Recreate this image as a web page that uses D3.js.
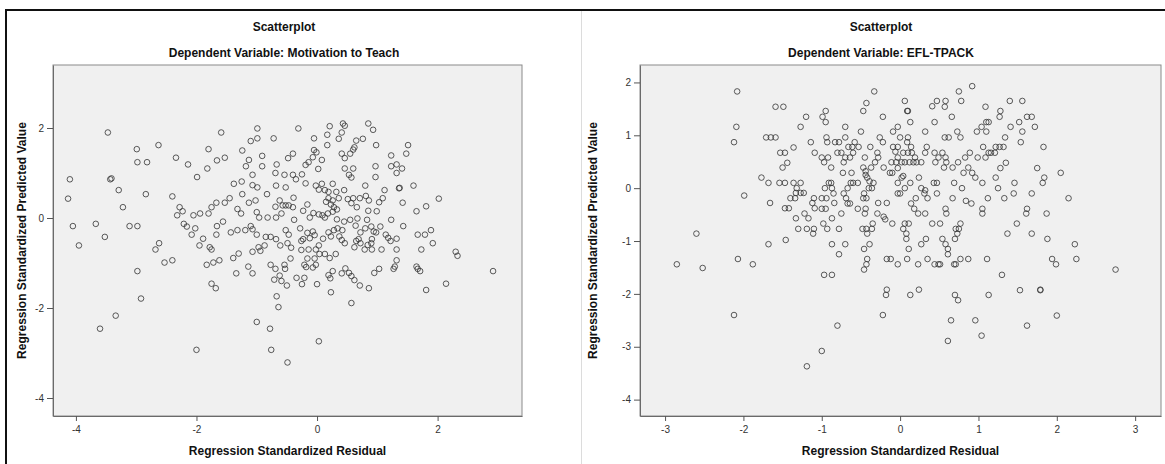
<!DOCTYPE html>
<html>
<head>
<meta charset="utf-8">
<script src="https://cdn.jsdelivr.net/npm/d3@7"></script>
<style>
    body { margin: 0; background: #fff; }
    svg { display: block; font-family: "Liberation Sans", Arial, sans-serif; }
</style>
</head>
<body>
<svg id="chart" width="1165" height="464"></svg>
<script>
// Residual / predicted pairs
var motivationPoints = [
    [-3.47,1.90],[-2.99,1.53],[-2.98,1.24],[-4.10,0.86],[-3.43,0.86],[-3.41,0.88],[-3.29,0.62],[-4.13,0.43],
    [-3.22,0.24],[-4.05,-0.18],[-3.67,-0.13],[-3.11,-0.18],[-2.98,-0.18],[-3.52,-0.42],[-3.95,-0.61],[-2.98,-1.18],
    [-2.92,-1.79],[-3.34,-2.17],[-3.60,-2.46],
    [-0.99,1.99],[-0.31,1.99],[-1.59,1.90],[-0.99,1.77],[-1.10,1.71],[-0.72,1.77],[-0.05,1.77],[-2.63,1.62],
    [-1.80,1.53],[-1.24,1.50],[-0.05,1.51],[-0.01,1.46],[-0.91,1.38],[-0.40,1.43],[-0.48,1.33],[-2.34,1.34],
    [-1.53,1.34],[-1.66,1.28],[-2.82,1.24],[-2.14,1.19],[-1.13,1.29],[-1.18,1.15],[-0.91,1.15],[-0.67,1.19],
    [-1.82,1.10],[-0.07,1.35],[-0.14,1.24],[-0.19,1.18],[-0.25,0.97],[0.02,1.09],[-1.07,0.96],[-0.69,1.00],
    [-0.54,0.96],[-0.40,0.96],[-0.35,0.86],[-1.99,0.91],[-1.38,0.76],[-1.25,0.81],[-1.07,0.73],[-0.99,0.68],
    [-0.68,0.72],[-0.52,0.68],[-0.19,0.77],[-0.02,0.72],[0.03,0.63],[-2.84,0.53],[-2.40,0.48],[-1.24,0.53],
    [-0.83,0.53],[-1.45,0.44],[-1.53,0.34],[-1.67,0.34],[-1.75,0.24],[-1.80,0.10],[-1.94,0.10],[-2.05,0.06],
    [-2.28,0.24],[-2.23,0.15],[-2.32,0.06],[-1.13,0.34],[-1.02,0.39],[-0.62,0.39],[-0.57,0.28],[-0.52,0.28],
    [-0.47,0.28],[-0.39,0.45],[-0.16,0.30],[-0.40,0.24],[-0.69,0.25],[-1.32,0.20],[-1.26,0.10],[-1.00,0.13],
    [-0.96,0.01],[-0.82,0.01],[-0.68,0.01],[-0.59,0.10],[-0.38,-0.04],[-0.23,0.16],[-0.06,0.11],[-0.12,0.01],
    [0.03,0.08],[-2.21,-0.13],[-2.16,-0.19],[-2.02,-0.23],[-2.08,-0.37],[-1.89,-0.46],[-1.95,-0.61],[-1.78,-0.65],
    [-1.75,-0.70],[-1.56,-0.08],[-1.66,-0.18],[-1.67,-0.37],[-1.43,-0.32],[-1.32,-0.27],[-1.19,-0.27],[-1.10,-0.18],
    [-1.07,-0.25],[-1.00,-0.37],[-0.85,-0.42],[-0.77,-0.42],[-0.68,-0.47],[-0.52,-0.27],[-0.47,-0.37],[-0.28,-0.23],
    [-0.16,-0.33],[-0.07,-0.30],[-0.04,-0.38],[-0.23,-0.47],[-0.26,-0.51],[-0.12,-0.45],[-2.62,-0.56],[-2.68,-0.70],
    [-1.07,-0.75],[-0.97,-0.65],[-0.94,-0.73],[-0.87,-0.61],[-0.61,-0.61],[-0.49,-0.56],[-0.43,-0.66],[-0.26,-0.71],
    [-0.14,-0.70],[-0.02,-0.70],[0.03,-0.61],[-1.30,-0.79],[-1.39,-0.89],[-2.40,-0.94],[-2.53,-0.99],[-1.83,-1.04],
    [-1.72,-0.99],[-1.62,-0.94],[-0.44,-0.90],[-0.77,-1.04],[-0.16,-0.90],[-0.04,-0.90],[-0.21,-1.04],[-0.18,-1.09],
    [-0.07,-1.10],[-0.02,-1.04],[-0.69,-1.13],[-0.54,-1.04],[-1.14,-1.08],[-1.07,-1.23],[-1.34,-1.23],[-0.53,-1.13],
    [-0.62,-1.28],[-0.71,-1.37],[-0.59,-1.40],[-0.50,-1.50],[-0.34,-1.33],[-0.25,-1.47],[-0.21,-1.33],[0.00,-1.47],
    [-1.75,-1.46],[-1.68,-1.56],[-0.67,-1.74],[-0.64,-1.98],[-1.00,-2.31],[-0.78,-2.46],[0.03,-2.74],[-2.00,-2.93],
    [-0.76,-2.93],[-0.49,-3.21],
    [0.21,2.04],[0.43,2.10],[0.46,2.05],[0.85,2.10],[0.93,1.96],[0.17,1.85],[0.41,1.90],[0.36,1.76],
    [0.65,1.72],[0.76,1.76],[0.17,1.62],[0.98,1.62],[1.51,1.62],[1.48,1.43],[1.23,1.39],[0.08,1.29],
    [0.41,1.43],[0.46,1.33],[0.55,1.43],[0.60,1.52],[0.62,1.57],[0.46,1.10],[0.60,1.10],[0.53,0.96],
    [0.57,0.90],[0.97,1.15],[0.97,0.91],[1.23,1.15],[1.32,1.19],[1.41,1.10],[1.32,1.00],[1.36,0.66],
    [1.37,0.67],[1.60,0.72],[0.80,0.72],[1.12,0.62],[0.08,0.76],[0.26,0.76],[0.13,0.62],[0.19,0.58],
    [0.32,0.58],[0.45,0.62],[0.19,0.44],[0.15,0.36],[0.26,0.39],[0.23,0.30],[0.28,0.24],[0.33,0.19],
    [0.26,0.14],[0.36,0.44],[0.51,0.42],[0.60,0.44],[0.57,0.33],[0.66,0.24],[0.71,0.44],[0.81,0.49],
    [0.86,0.39],[1.03,0.35],[1.09,0.44],[1.42,0.34],[2.02,0.43],[1.81,0.26],[1.65,0.15],[0.85,0.16],
    [0.99,0.15],[0.09,0.06],[0.13,0.01],[0.18,0.10],[0.33,-0.03],[0.45,-0.08],[0.55,-0.04],[0.67,-0.01],
    [0.83,-0.04],[0.64,-0.17],[1.23,-0.04],[1.43,-0.18],[0.19,-0.32],[0.28,-0.27],[0.42,-0.27],[0.34,-0.23],
    [0.37,-0.41],[0.41,-0.49],[0.46,-0.56],[0.10,-0.46],[0.23,-0.41],[0.69,-0.47],[0.65,-0.51],[0.72,-0.32],
    [0.80,-0.23],[0.90,-0.19],[0.94,-0.30],[0.98,-0.32],[1.05,-0.19],[0.91,-0.47],[0.90,-0.56],[1.14,-0.37],
    [1.18,-0.44],[1.22,-0.51],[1.32,-0.46],[0.62,-0.65],[0.72,-0.56],[0.79,-0.70],[0.91,-0.70],[1.07,-0.70],
    [0.84,-0.60],[1.32,-0.70],[1.67,-0.37],[1.79,-0.37],[1.89,-0.27],[1.92,-0.56],[1.73,-0.70],[2.30,-0.75],
    [2.33,-0.84],[0.04,-0.80],[0.13,-0.80],[0.21,-0.89],[0.31,-0.80],[1.32,-0.94],[1.03,-1.13],[0.95,-1.22],
    [1.29,-1.08],[1.27,-1.13],[1.65,-1.08],[1.67,-1.13],[1.71,-1.18],[0.47,-1.12],[0.41,-1.23],[0.26,-1.18],
    [0.22,-1.34],[0.19,-1.27],[0.53,-1.22],[0.57,-1.29],[0.62,-1.38],[0.71,-1.50],[0.86,-1.56],[0.23,-1.65],
    [0.57,-1.89],[1.81,-1.60],[2.14,-1.46],[2.92,-1.18]
];

var tpackPoints = [
    [-2.08,1.83],[-1.59,1.54],[-1.49,1.54],[-1.20,1.35],[-1.27,1.16],[-2.09,1.16],[-2.12,0.87],[-1.71,0.96],
    [-1.65,0.96],[-1.59,0.96],[-1.14,0.87],[-1.36,0.77],[-1.53,0.67],[-1.47,0.67],[-1.09,0.67],[-1.44,0.48],
    [-1.50,0.39],[-1.77,0.20],[-1.68,0.10],[-1.54,0.10],[-1.47,0.10],[-1.36,0.10],[-1.27,0.10],[-1.32,0.00],
    [-1.33,-0.09],[-1.27,-0.09],[-1.23,-0.09],[-1.99,-0.14],[-1.40,-0.19],[-1.34,-0.19],[-1.10,-0.19],[-1.66,-0.28],
    [-1.12,-0.28],[-1.47,-0.38],[-1.42,-0.38],[-1.09,-0.38],[-1.22,-0.48],[-1.17,-0.57],[-1.33,-0.57],[-1.30,-0.77],
    [-1.19,-0.77],[-1.10,-0.77],[-1.11,-0.86],[-2.60,-0.86],[-1.46,-0.98],[-1.68,-1.06],[-2.07,-1.34],[-1.88,-1.44],
    [-2.85,-1.44],[-2.52,-1.51],[-2.12,-2.40],[-1.19,-3.37],
    [-0.33,1.83],[0.92,1.93],[0.75,1.83],[-0.43,1.61],[-0.47,1.46],[0.06,1.65],[0.09,1.46],[0.10,1.46],
    [0.47,1.65],[0.58,1.65],[0.41,1.55],[0.57,1.54],[0.78,1.65],[1.09,1.54],[-0.22,1.35],[0.66,1.35],
    [0.13,1.25],[0.44,1.25],[-0.95,1.46],[-0.99,1.35],[-0.95,1.25],[-0.70,1.16],[-0.50,1.07],[-0.03,1.16],
    [-0.09,1.07],[1.10,1.25],[1.13,1.25],[1.04,1.16],[0.98,1.07],[1.10,1.07],[-0.26,0.96],[-0.22,0.87],
    [0.00,0.96],[0.10,0.96],[0.32,1.07],[0.73,1.07],[0.77,0.96],[0.57,0.96],[0.62,0.96],[-0.94,0.96],
    [-0.93,0.87],[-0.83,0.87],[-0.78,0.87],[-0.70,0.96],[-0.66,0.78],[-0.58,0.87],[-0.61,0.78],[-0.53,0.78],
    [-1.00,0.58],[-0.97,0.49],[-0.92,0.58],[-0.88,0.39],[-0.80,0.67],[-0.75,0.67],[-0.72,0.49],[-0.70,0.58],
    [-0.64,0.58],[-0.60,0.67],[-0.38,0.78],[-0.45,0.58],[-0.47,0.39],[-0.44,0.32],[-0.37,0.39],[-0.32,0.49],
    [-0.29,0.67],[-0.28,0.58],[-0.09,0.78],[-0.03,0.78],[-0.06,0.69],[0.04,0.67],[0.10,0.67],[0.09,0.87],
    [0.14,0.78],[0.15,0.67],[0.19,0.58],[-0.03,0.58],[-0.05,0.49],[0.02,0.49],[0.06,0.49],[0.12,0.49],
    [0.17,0.49],[0.21,0.49],[0.27,0.49],[-0.11,0.49],[-0.21,0.39],[-0.13,0.29],[-0.10,0.29],[-0.03,0.38],
    [0.02,0.20],[0.04,0.23],[0.13,0.10],[-0.03,0.10],[0.06,0.00],[0.00,-0.10],[-0.03,-0.10],[0.24,0.20],
    [0.34,0.78],[0.32,0.67],[0.44,0.67],[0.49,0.58],[0.45,0.49],[0.54,0.67],[0.58,0.58],[0.59,0.49],
    [0.67,0.39],[0.56,0.39],[0.74,0.49],[0.83,0.58],[0.89,0.67],[0.99,0.58],[1.06,0.78],[1.09,0.58],
    [1.13,0.67],[0.87,0.39],[0.81,0.29],[0.92,0.29],[0.96,0.20],[1.05,0.10],[-0.62,0.29],[-0.73,0.29],
    [-0.63,0.10],[-0.60,0.10],[-0.54,0.10],[-0.44,0.25],[-0.42,0.20],[-0.39,0.13],[-0.34,0.10],[-0.36,0.00],
    [-0.40,0.00],[-0.46,-0.10],[-0.43,-0.19],[-0.47,-0.19],[-0.88,0.10],[-0.91,0.10],[-0.96,0.00],[-0.87,0.00],
    [-0.85,-0.10],[-0.72,-0.10],[-0.67,0.00],[-0.69,-0.19],[-0.64,-0.29],[-0.67,-0.29],[-0.84,-0.28],[-1.00,-0.19],
    [-0.94,-0.19],[-1.00,-0.39],[-0.95,-0.39],[-0.98,-0.67],[-0.93,-0.77],[-0.87,-0.57],[-0.78,-0.77],[-0.75,-0.48],
    [-0.54,-0.39],[-0.44,-0.39],[-0.45,-0.48],[-0.28,-0.28],[-0.17,-0.28],[-0.21,-0.54],[-0.19,-0.59],[-0.10,-0.67],
    [-0.29,-0.48],[-0.48,-0.77],[-0.43,-0.77],[-0.42,-0.86],[-0.36,-0.77],[-0.35,-0.67],[-0.39,-1.06],[-0.46,-1.15],
    [-0.42,-1.34],[-0.43,-1.44],[-0.46,-1.54],[-0.87,-1.06],[-0.70,-1.06],[-0.78,-1.25],[0.04,-0.77],[0.06,-0.67],
    [0.11,-0.67],[0.08,-0.86],[0.08,-0.96],[0.11,-1.15],[0.14,-0.29],[0.20,-0.19],[0.18,-0.39],[0.23,-0.48],
    [0.32,-0.48],[0.27,0.00],[0.31,-0.10],[0.35,-0.19],[0.32,-0.04],[0.43,0.10],[0.47,0.10],[0.47,-0.10],
    [0.67,-0.19],[0.69,0.10],[0.79,0.00],[0.84,-0.24],[0.91,-0.29],[1.12,-0.19],[1.05,-0.39],[1.05,-0.48],
    [0.58,-0.39],[0.59,-0.48],[0.41,-0.67],[0.51,-0.67],[0.77,-0.67],[0.75,-0.77],[0.71,-0.77],[0.73,-0.86],
    [0.70,-0.96],[0.54,-0.96],[0.58,-1.06],[0.61,-1.15],[0.61,-1.25],[0.33,-0.96],[0.27,-1.06],[-0.17,-1.34],
    [-0.12,-1.34],[-0.03,-1.44],[0.09,-1.34],[0.23,-1.44],[0.35,-1.34],[0.44,-1.44],[0.49,-1.44],[0.51,-1.44],
    [0.69,-1.44],[0.71,-1.44],[0.77,-1.34],[0.87,-1.34],[1.11,-1.34],[-0.97,-1.64],[-0.87,-1.64],[-0.17,-1.92],
    [-0.18,-2.02],[0.13,-2.02],[0.24,-1.92],[0.70,-2.02],[0.74,-2.12],[1.13,-2.02],[-0.22,-2.40],[-0.80,-2.60],
    [0.65,-2.50],[0.96,-2.50],[1.04,-2.79],[0.61,-2.89],[-1.00,-3.08],
    [1.40,1.65],[1.56,1.65],[1.28,1.46],[1.27,1.35],[1.41,1.16],[1.52,1.25],[1.62,1.35],[1.68,1.35],
    [1.72,1.16],[1.56,1.07],[1.54,0.87],[1.34,0.96],[1.83,0.78],[1.22,0.78],[1.27,0.78],[1.32,0.78],
    [1.16,0.67],[1.21,0.67],[1.35,0.48],[1.28,0.38],[1.75,0.38],[2.05,0.29],[1.22,0.20],[1.46,0.10],
    [1.84,0.20],[1.82,0.10],[1.25,0.00],[1.45,-0.10],[1.68,-0.10],[1.33,-0.19],[2.15,-0.19],[1.62,-0.39],
    [1.61,-0.48],[1.87,-0.48],[1.49,-0.67],[1.37,-0.86],[1.68,-0.86],[1.88,-0.96],[2.23,-1.06],[1.94,-1.34],
    [1.99,-1.44],[2.25,-1.34],[2.75,-1.54],[1.30,-1.64],[1.53,-1.93],[1.79,-1.93],[1.79,-1.92],[2.00,-2.41],
    [1.62,-2.60]
];

// Tick values for each axis
var motivationXTicks = [-4, -2, 0, 2];
var motivationYTicks = [-4, -2, 0, 2];
var tpackXTicks = [-3, -2, -1, 0, 1, 2, 3];
var tpackYTicks = [-4, -3, -2, -1, 0, 1, 2];

var chartTitle = "Scatterplot";
var xTitle = "Regression Standardized Residual";
var yTitle = "Regression Standardized Predicted Value";

var svg = d3.select("#chart");

// Outer frame of the pasted output
svg.append("line")
    .attr("x1", 5).attr("x2", 1165).attr("y1", 10).attr("y2", 10)
    .attr("stroke", "#111").attr("stroke-width", 2);
svg.append("line")
    .attr("x1", 6).attr("x2", 6).attr("y1", 9).attr("y2", 464)
    .attr("stroke", "#111").attr("stroke-width", 2);
svg.append("line")
    .attr("x1", 581.5).attr("x2", 581.5).attr("y1", 11).attr("y2", 464)
    .attr("stroke", "#dcdcdc").attr("stroke-width", 1);

function drawPanel(cfg) {
    var top = 65, bottom = 416;

    var x = d3.scaleLinear().domain(cfg.xDomain).range([cfg.plotLeft, cfg.plotRight]);
    var y = d3.scaleLinear().domain(cfg.yDomain).range([bottom, top]);

    var g = svg.append("g");

    // Titles
    g.append("text")
        .attr("x", cfg.center).attr("y", 31)
        .attr("text-anchor", "middle")
        .style("font-size", "12px").style("font-weight", "bold").style("fill", "#111")
        .text(chartTitle);
    g.append("text")
        .attr("x", cfg.center).attr("y", 57)
        .attr("text-anchor", "middle")
        .style("font-size", "12px").style("font-weight", "bold").style("fill", "#111")
        .text(cfg.subtitle);

    // Plot area
    g.append("rect")
        .attr("x", cfg.plotLeft).attr("y", top)
        .attr("width", cfg.plotRight - cfg.plotLeft).attr("height", bottom - top)
        .attr("fill", "#f0f0f0").attr("stroke", "#8a8a8a").attr("stroke-width", 1);

    // Axes, integer labels with a plain hyphen
    var fmt = function(d) { return String(d); };
    var xAxis = d3.axisBottom(x).tickValues(cfg.xTicks).tickFormat(fmt).tickSize(5).tickPadding(5).tickSizeOuter(0);
    var yAxis = d3.axisLeft(y).tickValues(cfg.yTicks).tickFormat(fmt).tickSize(6).tickPadding(3).tickSizeOuter(0);

    var gx = g.append("g")
        .attr("transform", "translate(0," + bottom + ")")
        .call(xAxis);
    var gy = g.append("g")
        .attr("transform", "translate(" + cfg.plotLeft + ",0)")
        .call(yAxis);

    [gx, gy].forEach(function(ax) {
        ax.select(".domain").attr("stroke", "#6a6a6a");
        ax.selectAll(".tick line").attr("stroke", "#555");
        ax.selectAll(".tick text")
            .style("font-size", "10px")
            .style("fill", "#333")
            .style("font-family", "'Liberation Sans', Arial, sans-serif");
    });

    // Axis titles
    g.append("text")
        .attr("x", (cfg.plotLeft + cfg.plotRight) / 2).attr("y", 455)
        .attr("text-anchor", "middle")
        .style("font-size", "12px").style("font-weight", "bold").style("fill", "#111")
        .text(xTitle);
    g.append("text")
        .attr("transform", "translate(" + cfg.yTitleX + "," + ((top + bottom) / 2) + ") rotate(-90)")
        .attr("text-anchor", "middle")
        .attr("dy", "0.35em")
        .style("font-size", "12px").style("font-weight", "bold").style("fill", "#111")
        .text(yTitle);

    // Points
    g.append("g")
        .selectAll("circle")
        .data(cfg.points)
        .enter()
        .append("circle")
        .attr("cx", function(d) { return x(d[0]); })
        .attr("cy", function(d) { return y(d[1]); })
        .attr("r", 2.8)
        .attr("fill", "none")
        .attr("stroke", "#333")
        .attr("stroke-opacity", 0.8)
        .attr("stroke-width", 1);
}

drawPanel({
    subtitle: "Dependent Variable: Motivation to Teach",
    points: motivationPoints,
    xTicks: motivationXTicks,
    yTicks: motivationYTicks,
    xDomain: [-4.38, 3.40],
    yDomain: [-4.40, 3.40],
    plotLeft: 53,
    plotRight: 522,
    center: 284,
    yTitleX: 22
});

drawPanel({
    subtitle: "Dependent Variable: EFL-TPACK",
    points: tpackPoints,
    xTicks: tpackXTicks,
    yTicks: tpackYTicks,
    xDomain: [-3.32, 3.33],
    yDomain: [-4.31, 2.33],
    plotLeft: 640,
    plotRight: 1161,
    center: 881,
    yTitleX: 593
});
</script>
</body>
</html>
